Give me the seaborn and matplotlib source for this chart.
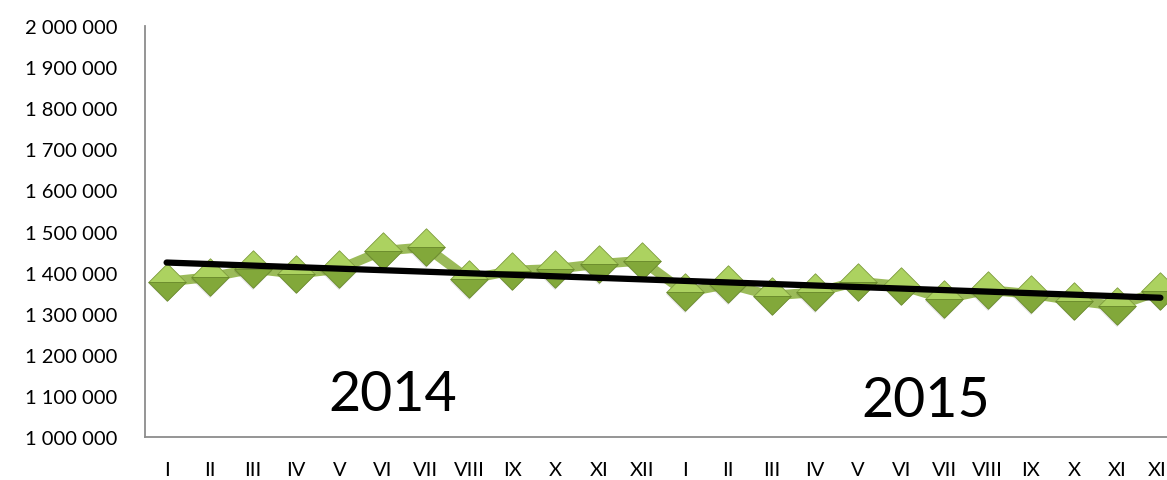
import numpy as np
import pandas as pd
import matplotlib
matplotlib.use("Agg")
import matplotlib.pyplot as plt
import seaborn as sns

months = ["I", "II", "III", "IV", "V", "VI", "VII", "VIII", "IX", "X", "XI", "XII"]
values_2014 = [1378000, 1389000, 1409000, 1397000, 1409000, 1453000,
               1462000, 1384000, 1405000, 1409000, 1421000, 1429000]
values_2015 = [1352000, 1372000, 1344000, 1352000, 1378000, 1368000,
               1336000, 1358000, 1348000, 1332000, 1319000, 1356000]
year_labels = ["2014", "2015"]
y_ticks = list(range(1000000, 2000001, 100000))

tick_labels = months + months
vals = values_2014 + values_2015
df = pd.DataFrame({"idx": np.arange(len(vals)), "value": vals})

sns.set_theme(style="white")
plt.rcParams["font.family"] = ["Lato", "DejaVu Sans"]
plt.rcParams["text.color"] = "black"
plt.rcParams["xtick.color"] = "black"
plt.rcParams["ytick.color"] = "black"

fig = plt.figure(figsize=(11.67, 4.81), dpi=100)
ax = fig.add_axes([145 / 1167, 43 / 481, 1037 / 1167, 411 / 481])

green_line = "#9bbb59"
sns.lineplot(data=df, x="idx", y="value", ax=ax, color=green_line,
             linewidth=7, zorder=2, solid_joinstyle="round")

# diamond markers, drawn as light upper and dark lower halves
upper = [(-1, 0), (0, 1), (1, 0), (-1, 0)]
lower = [(-1, 0), (0, -1), (1, 0), (-1, 0)]
ax.plot(df["idx"], df["value"] - 4000, linestyle="none", marker="D",
        markersize=19, color="#000000", alpha=0.12, markeredgewidth=0, zorder=3)
ax.plot(df["idx"], df["value"], linestyle="none", marker=upper,
        markersize=27, color="#acd260", markeredgecolor="#7f9d3e",
        markeredgewidth=0.6, zorder=4)
ax.plot(df["idx"], df["value"], linestyle="none", marker=lower,
        markersize=27, color="#82a83a", markeredgecolor="#6a8a2c",
        markeredgewidth=0.6, zorder=4)

# linear trend line
coef = np.polyfit(df["idx"], df["value"], 1)
xt = np.array([0, len(vals) - 1])
ax.plot(xt, np.polyval(coef, xt), color="black", linewidth=4.5,
        solid_capstyle="round", zorder=5)

ax.set_xlim(-0.5, len(vals) - 0.5)
ax.set_ylim(1000000, 2000000)
ax.set_yticks(y_ticks)
ax.set_yticklabels([f"{v:,}".replace(",", " ") for v in y_ticks], fontsize=14.5)
ax.set_xticks(np.arange(len(vals)))
ax.set_xticklabels(tick_labels, fontsize=14.5)
ax.tick_params(axis="y", length=0, pad=20)
ax.tick_params(axis="x", length=0, pad=17)
ax.set_xlabel("")
ax.set_ylabel("")

for side in ["top", "right"]:
    ax.spines[side].set_visible(False)
for side in ["left", "bottom"]:
    ax.spines[side].set_color("#8c8c8c")
    ax.spines[side].set_linewidth(1.3)

ax.text(5.24, 1103000, year_labels[0], fontsize=40, ha="center", va="center",
        color="black")
ax.text(17.56, 1088000, year_labels[1], fontsize=40, ha="center", va="center",
        color="black")

fig.savefig("out.png", dpi=100)
